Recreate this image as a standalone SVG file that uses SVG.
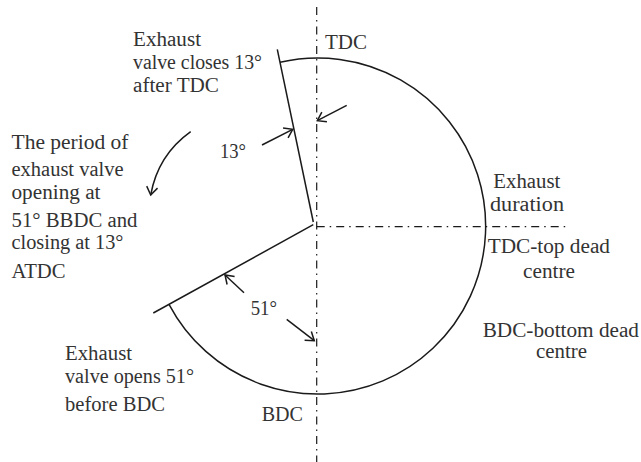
<svg xmlns="http://www.w3.org/2000/svg" width="641" height="462" viewBox="0 0 641 462">
<style>
text{font-family:"Liberation Serif",serif;font-size:20.5px;fill:#333}
.l{fill:none;stroke:#1a1a1a;stroke-width:1.5}
.d{fill:none;stroke:#1a1a1a;stroke-width:1.2;stroke-dasharray:8 5 1.5 5}
</style>
<defs><marker id="a" markerWidth="14" markerHeight="14" refX="11" refY="7" orient="auto" markerUnits="userSpaceOnUse"><path d="M3 1.5L11 7L3 12.5" fill="none" stroke="#1a1a1a" stroke-width="1.5"/></marker></defs>
<rect width="641" height="462" fill="#fff"/>
<g id="connectors">
<path class="d" d="M316.7 7V462"/>
<path class="d" d="M316.7 226.7H567"/>
<path class="l" d="M280 62.3A168 168 0 1 1 169 304.3"/>
<path class="l" d="M277.3 49.3L313.3 222"/>
<path class="l" d="M313.3 224.7L153.3 313"/>
<path class="l" marker-end="url(#a)" d="M262 145L292.7 129.3"/>
<path class="l" marker-end="url(#a)" d="M346.7 105.3L317.3 120.7"/>
<path class="l" marker-end="url(#a)" d="M190.7 131.7Q158 155 150.7 195"/>
<path class="l" marker-end="url(#a)" d="M244 292.7L225 275"/>
<path class="l" marker-end="url(#a)" d="M286.7 319.3L314.3 340.7"/>
</g>
<g id="labels">
<text x="133" y="45.7" textLength="68" lengthAdjust="spacingAndGlyphs">Exhaust</text><text x="133" y="69" textLength="129" lengthAdjust="spacingAndGlyphs">valve closes 13°</text><text x="133" y="92" textLength="86" lengthAdjust="spacingAndGlyphs">after TDC</text>
<text x="325" y="49" textLength="42" lengthAdjust="spacingAndGlyphs">TDC</text>
<text x="220" y="157.7" textLength="26" lengthAdjust="spacingAndGlyphs">13°</text>
<text x="11.5" y="149" textLength="117" lengthAdjust="spacingAndGlyphs">The period of</text><text x="11.5" y="176" textLength="112" lengthAdjust="spacingAndGlyphs">exhaust valve</text><text x="11.5" y="198.7" textLength="89" lengthAdjust="spacingAndGlyphs">opening at</text><text x="11.5" y="226.7" textLength="126" lengthAdjust="spacingAndGlyphs">51° BBDC and</text><text x="11.5" y="249.3" textLength="112" lengthAdjust="spacingAndGlyphs">closing at 13°</text><text x="11.5" y="278" textLength="54" lengthAdjust="spacingAndGlyphs">ATDC</text>
<text x="493.3" y="188" textLength="67" lengthAdjust="spacingAndGlyphs">Exhaust</text><text x="490" y="211" textLength="74" lengthAdjust="spacingAndGlyphs">duration</text>
<text x="487.7" y="252.7" textLength="122.3" lengthAdjust="spacingAndGlyphs">TDC-top dead</text><text x="523" y="277.7" textLength="52" lengthAdjust="spacingAndGlyphs">centre</text>
<text x="482.7" y="336.7" textLength="156.3" lengthAdjust="spacingAndGlyphs">BDC-bottom dead</text><text x="536" y="358.3" textLength="51" lengthAdjust="spacingAndGlyphs">centre</text>
<text x="250.7" y="315" textLength="26.3" lengthAdjust="spacingAndGlyphs">51°</text>
<text x="65" y="360" textLength="67" lengthAdjust="spacingAndGlyphs">Exhaust</text><text x="65" y="383" textLength="129" lengthAdjust="spacingAndGlyphs">valve opens 51°</text><text x="65" y="410.7" textLength="100" lengthAdjust="spacingAndGlyphs">before BDC</text>
<text x="261.7" y="420.7" textLength="41.3" lengthAdjust="spacingAndGlyphs">BDC</text>
</g>
</svg>
